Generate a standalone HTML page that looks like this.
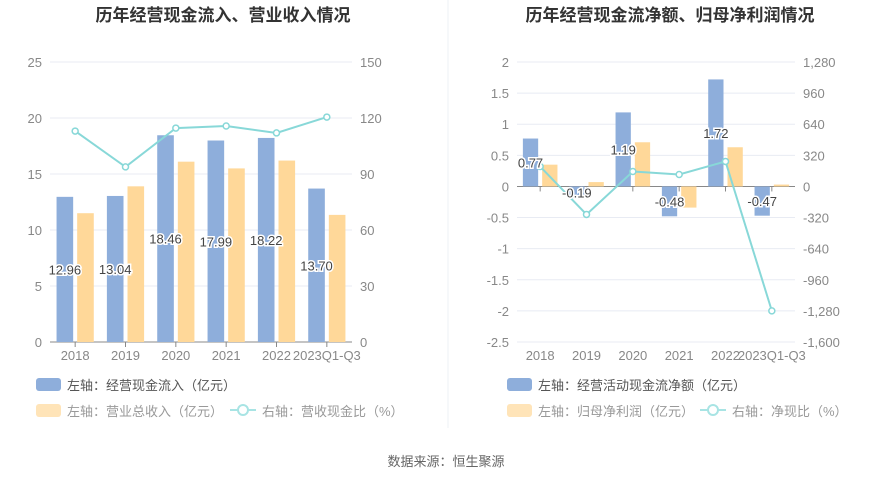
<!DOCTYPE html>
<html><head><meta charset="utf-8"><style>
body{margin:0;background:#fff;width:893px;height:480px;overflow:hidden;font-family:"Liberation Sans","Noto Sans CJK SC",sans-serif}
</style></head><body>
<svg id="s" width="893" height="480" xmlns="http://www.w3.org/2000/svg" font-family="Liberation Sans, Noto Sans CJK SC, sans-serif">
<line x1="448" y1="0" x2="448" y2="428" stroke="#eef0f4"/>
<text x="223" y="21" text-anchor="middle" font-size="17" font-weight="bold" fill="#333">历年经营现金流入、营业收入情况</text>
<text x="670" y="21" text-anchor="middle" font-size="17" font-weight="bold" fill="#333">历年经营现金流净额、归母净利润情况</text>
<text x="446" y="466" text-anchor="middle" font-size="13" fill="#666">数据来源：恒生聚源</text>
</svg>
<script>
const cats=["2018","2019","2020","2021","2022","2023Q1-Q3"];
const inflow=[12.96,13.04,18.46,17.99,18.22,13.70];
const revenue=[11.5,13.9,16.1,15.5,16.2,11.35];
const cashRatio=[113,93.8,114.6,115.7,112,120.5];
const leftTicks=[0,5,10,15,20,25];
const leftRTicks=[0,30,60,90,120,150];
const netCash=[0.77,-0.19,1.19,-0.48,1.72,-0.47];
const netProfit=[0.35,0.07,0.71,-0.34,0.63,0.03];
const netRatio=[205,-288,154,123,257,-1280];
const rightTicks=[2,1.5,1,0.5,0,-0.5,-1,-1.5,-2,-2.5];
const rightRTicks=["1,280","960","640","320","0","-320","-640","-960","-1,280","-1,600"];
const rightRVals=[1280,960,640,320,0,-320,-640,-960,-1280,-1600];

const s=document.getElementById('s');const NS="http://www.w3.org/2000/svg";
function mk(t,a,txt){const e=document.createElementNS(NS,t);for(const k in a)e.setAttribute(k,a[k]);if(txt!==undefined)e.textContent=txt;s.appendChild(e);return e;}

function chart(o){
  const n=cats.length,bw=(o.x1-o.x0)/n;
  const yL=v=>o.yTop+(o.lmax-v)/(o.lmax-o.lmin)*(o.yBot-o.yTop);
  const yR=v=>o.yTop+(o.rmax-v)/(o.rmax-o.rmin)*(o.yBot-o.yTop);
  o.lt.forEach((t,i)=>{
    const y=yL(t);
    const g=mk('line',{x1:o.x0,x2:o.x1,y1:y,y2:y,stroke:'#e8ebf3'});
    
    const a=mk('text',{x:o.x0-8,y:y+5,'text-anchor':'end','font-size':13,fill:'#888'},t);
    
    const b=mk('text',{x:o.x1+8,y:yR(o.rv[i])+5,'font-size':13,fill:'#888'},o.rt[i]);
    
  });
  const z=yL(0);
  const ax=mk('line',{x1:o.x0,x2:o.x1,y1:z,y2:z,stroke:'#888'});
  
  const w=bw*0.33;
  cats.forEach((c,i)=>{
    const cx=o.x0+bw*(i+0.5);
    const tk=mk('line',{x1:cx,x2:cx,y1:z,y2:z+5,stroke:'#888'});
    
    const l=mk('text',{x:cx,y:o.yBot+18,'text-anchor':'middle','font-size':13,fill:'#888'},c);
    
    const v1=o.a[i],v2=o.b[i];
    const b1=mk('rect',{x:cx-w-2,y:Math.min(yL(v1),z),width:w,height:Math.abs(yL(v1)-z),fill:'#8eaedb'});
    
    const b2=mk('rect',{x:cx+2,y:Math.min(yL(v2),z),width:w,height:Math.abs(yL(v2)-z),fill:'#ffd899'});
    
  });
  const pts=o.r.map((v,i)=>[o.x0+bw*(i+0.5),yR(v)]);
  const pl=mk('polyline',{points:pts.map(p=>p.join(',')).join(' '),fill:'none',stroke:'#88d8d8','stroke-width':2});
  
  pts.forEach(p=>{const c=mk('circle',{cx:p[0],cy:p[1],r:3,fill:'#fff',stroke:'#88d8d8','stroke-width':1.5});
    });
  cats.forEach((c,i)=>{
    const cx=o.x0+bw*(i+0.5)-w/2-2,v=o.a[i];
    const t=mk('text',{x:cx,y:(yL(v)+z)/2+5,'text-anchor':'middle','font-size':13,fill:'#444',stroke:'#fff','stroke-width':3,'paint-order':'stroke'},v.toFixed(2));
    
  });
  // legend
  const L=o.leg;
  let r=mk('rect',{x:L.x,y:378,width:25,height:13,rx:3,fill:'#8eaedb'});
  let t=mk('text',{x:L.x+31,y:390,'font-size':13,fill:'#555'},L.t1);
  r=mk('rect',{x:L.x,y:404,width:25,height:13,rx:3,fill:'#ffe4b8'});
  t=mk('text',{x:L.x+31,y:416,'font-size':13,fill:'#999'},L.t2);
  r=mk('line',{x1:L.lx,x2:L.lx+26,y1:410,y2:410,stroke:'#a8e4e4','stroke-width':2});
  r=mk('circle',{cx:L.lx+13,cy:410,r:5,fill:'#fff',stroke:'#a8e4e4','stroke-width':2});
  t=mk('text',{x:L.lx+32,y:416,'font-size':13,fill:'#999'},L.t3);
}
chart({x0:50,x1:352,yTop:62,yBot:342,lmin:0,lmax:25,rmin:0,rmax:150,lt:leftTicks,rt:leftRTicks,rv:leftRTicks,a:inflow,b:revenue,r:cashRatio,
  leg:{x:36,lx:230,t1:"左轴：经营现金流入（亿元）",t2:"左轴：营业总收入（亿元）",t3:"右轴：营收现金比（%）"}});
chart({x0:517,x1:795,yTop:62,yBot:342,lmin:-2.5,lmax:2,rmin:-1600,rmax:1280,lt:rightTicks,rt:rightRTicks,rv:rightRVals,a:netCash,b:netProfit,r:netRatio,
  leg:{x:507,lx:700,t1:"左轴：经营活动现金流净额（亿元）",t2:"左轴：归母净利润（亿元）",t3:"右轴：净现比（%）"}});
</script>
</body></html>
